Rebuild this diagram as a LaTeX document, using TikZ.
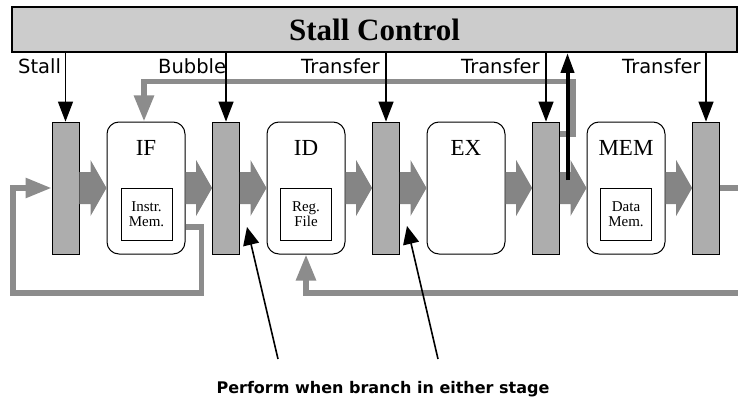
\documentclass[tikz,border=0pt]{standalone}
\usepackage{fontspec}
\setmainfont{Liberation Serif}
\newfontfamily\labfont{DejaVu Sans}
\usetikzlibrary{arrows.meta,calc}
\definecolor{ctrlfill}{gray}{0.80}
\definecolor{latchfill}{gray}{0.68}
\definecolor{arrfill}{gray}{0.52}
\definecolor{fbline}{gray}{0.55}
\begin{document}
\begin{tikzpicture}[x=1pt,y=-1pt,
  ctrlbox/.style={draw,line width=2pt,fill=ctrlfill,minimum width=725pt,minimum height=45pt,inner sep=0pt,
    font=\fontsize{31}{31}\selectfont\bfseries},
  latch/.style={draw,line width=0.8pt,fill=latchfill,minimum width=27pt,minimum height=132pt,inner sep=0pt},
  stage/.style={draw,line width=1pt,rounded corners=12pt,fill=white,minimum width=78pt,minimum height=132pt,inner sep=0pt},
  stagelab/.style={anchor=base,inner sep=0pt,font=\fontsize{23}{23}\selectfont},
  unit/.style={draw,line width=0.9pt,fill=white,minimum width=51pt,minimum height=52pt,inner sep=0pt,align=center,
    font=\fontsize{15}{15}\selectfont},
  sig/.style={anchor=base west,inner sep=0pt,font=\labfont\fontsize{19.5}{19.5}\selectfont},
  ctl/.style={line width=1.4pt,-{Triangle[length=20pt,width=15pt]}},
  fb/.style={draw=fbline,line width=5.5pt},
  fbarrow/.style={fb,-{Triangle[length=26pt,width=19pt]},fbline},
  ann/.style={line width=1.6pt,-{Triangle[length=18pt,width=16pt]}}
]
\useasboundingbox (0,0) rectangle (738,401);
\newcommand\bigarrow[2]{\fill[arrfill] let \p1=(#1.east), \p2=(#2.west) in
  (\x1,\y1+16pt) -- (\x2-16pt,\y1+16pt) -- (\x2-16pt,\y1+28pt) -- (\x2,\y1) --
  (\x2-16pt,\y1-28pt) -- (\x2-16pt,\y1-16pt) -- (\x1,\y1-16pt) -- cycle;}

% stall control
\node[ctrlbox] (SC) at (374.5,29.5) {Stall Control};

% latches and stages
\node[latch] (L1) at (65.5,188) {};
\node[latch] (L2) at (226,188) {};
\node[latch] (L3) at (386,188) {};
\node[latch] (L4) at (546,188) {};
\node[latch] (L5) at (706,188) {};
\node[stage] (IF) at (146,188) {};
\node[stage] (ID) at (306,188) {};
\node[stage] (EX) at (466,188) {};
\node[stage] (MEM) at (626,188) {};
\node[stagelab] (IFl) at (146,155) {IF};
\node[stagelab] (IDl) at (306,155) {ID};
\node[stagelab] (EXl) at (466,155) {EX};
\node[stagelab] (MEMl) at (626,155) {MEM};
\node[unit] (IM) at (146.5,214) {Instr.\\Mem.};
\node[unit] (RF) at (306,214) {Reg.\\File};
\node[unit] (DM) at (626,214) {Data\\Mem.};

% big data-flow arrows
\bigarrow{L1}{IF}
\bigarrow{IF}{L2}
\bigarrow{L2}{ID}
\bigarrow{ID}{L3}
\bigarrow{L3}{EX}
\bigarrow{EX}{L4}
\bigarrow{L4}{MEM}
\bigarrow{MEM}{L5}

% gray feedback paths
\coordinate (rout) at (738,188);
\coordinate (rin) at (738,293);
\draw[fb] (L5.east) -- (rout);
\draw[fbarrow] ([yshift=-39pt]IF.east) -- ++(16,0) |- (13,293) |- (L1.west);
\draw[fbarrow] ([yshift=54pt]L4.east) -- ++(13,0) |- ([xshift=-2pt,yshift=40pt]IF.north) -- ([xshift=-2pt]IF.north);
\draw[fbarrow] (rin) -| (ID.south);

% stall control signals
\draw[ctl] (L1.north |- SC.south) -- (L1.north);
\draw[ctl] (L2.north |- SC.south) -- (L2.north);
\draw[ctl] (L3.north |- SC.south) -- (L3.north);
\draw[ctl] (L4.north |- SC.south) -- (L4.north);
\draw[ctl] (L5.north |- SC.south) -- (L5.north);
\coordinate (bk) at (567.5,180);
\draw[line width=4pt,-{Triangle[length=20pt,width=13pt]}] (bk) -- (bk |- SC.south);

\node[sig] (s1) at (18,74) {Stall};
\node[sig] (s2) at (158,74) {Bubble};
\node[sig] (s3) at (301,74) {Transfer};
\node[sig] (s4) at (461,74) {Transfer};
\node[sig] (s5) at (622,74) {Transfer};

% annotation
\coordinate (a1) at (278,359);
\coordinate (t1) at (247,227);
\coordinate (a2) at (438,359);
\coordinate (t2) at (407,226);
\draw[ann] (a1) -- (t1);
\draw[ann] (a2) -- (t2);
\node[anchor=base,inner sep=0pt,font=\labfont\bfseries\fontsize{16}{16}\selectfont] (note) at (383,393) {Perform when branch in either stage};
\end{tikzpicture}
\end{document}
